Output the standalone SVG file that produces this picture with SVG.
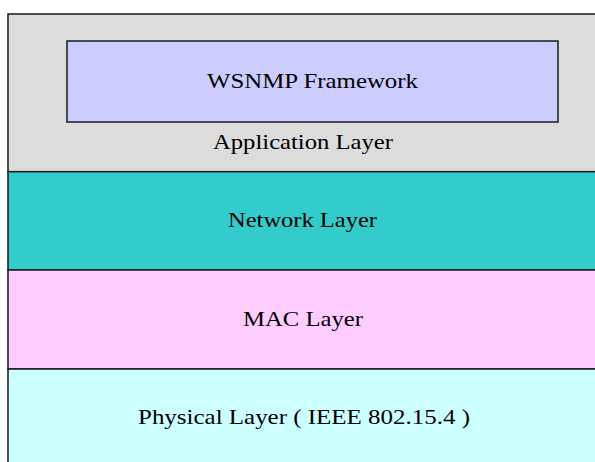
<svg xmlns="http://www.w3.org/2000/svg" width="595" height="462" viewBox="0 0 595 462">
<style>
.layer{stroke:#1a1a1a;stroke-width:1.5}
.lbl{font-family:"Liberation Serif","Times New Roman",serif;font-size:21px;fill:#000}
</style>
<rect width="595" height="462" fill="#ffffff"/>
<g id="application-layer">
<rect class="layer" x="8" y="14" width="600" height="157.7" fill="#DCDCDC"/>
<text class="lbl" x="213" y="149" textLength="180" lengthAdjust="spacingAndGlyphs">Application Layer</text>
</g>
<g id="wsnmp-framework">
<rect class="layer" x="67" y="41" width="491" height="81" fill="#CCCCFF"/>
<text class="lbl" x="207" y="88" textLength="211" lengthAdjust="spacingAndGlyphs">WSNMP Framework</text>
</g>
<g id="network-layer">
<rect class="layer" x="8" y="171.7" width="600" height="98.3" fill="#33CCCC"/>
<text class="lbl" x="228" y="227" textLength="149" lengthAdjust="spacingAndGlyphs">Network Layer</text>
</g>
<g id="mac-layer">
<rect class="layer" x="8" y="270" width="600" height="99" fill="#FFCCFF"/>
<text class="lbl" x="243" y="326" textLength="120" lengthAdjust="spacingAndGlyphs">MAC Layer</text>
</g>
<g id="physical-layer">
<rect class="layer" x="8" y="369" width="600" height="110" fill="#CCFFFF"/>
<text class="lbl" x="138" y="424" textLength="332" lengthAdjust="spacingAndGlyphs">Physical Layer ( IEEE 802.15.4 )</text>
</g>
<g id="connectors"></g>
</svg>
